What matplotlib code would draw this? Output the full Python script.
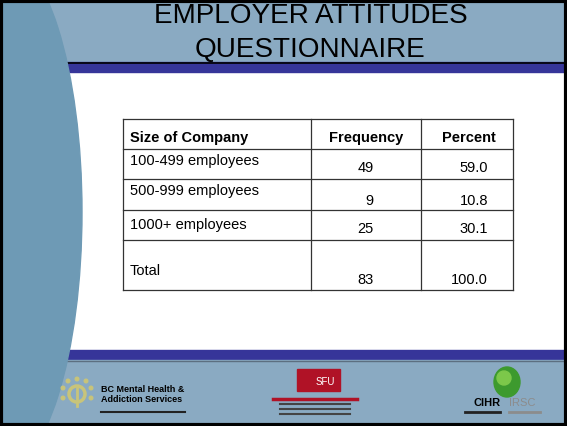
import matplotlib.pyplot as plt
from matplotlib.patches import Rectangle, Ellipse, Circle

plt.rcParams['font.family'] = ['Liberation Sans', 'DejaVu Sans']

title_lines = ['EMPLOYER ATTITUDES', 'QUESTIONNAIRE']
headers = ['Size of Company', 'Frequency', 'Percent']
sizes = ['100-499 employees', '500-999 employees', '1000+ employees', 'Total']
frequency = [49, 9, 25, 83]
percent = [59.0, 10.8, 30.1, 100.0]

band = '#8aaac2'
oval = '#6e9ab5'
navy = '#363599'

fig = plt.figure(figsize=(5.67, 4.26), dpi=100)
ax = fig.add_axes([0, 0, 1, 1])
ax.set_xlim(0, 567)
ax.set_ylim(426, 0)
ax.axis('off')

# slide background
ax.add_patch(Rectangle((0, 0), 567, 426, color='white', zorder=0))
ax.add_patch(Rectangle((0, 0), 567, 62, color=band, zorder=1))
ax.add_patch(Rectangle((0, 62), 567, 10, color=navy, zorder=1))
ax.plot([0, 567], [62.5, 62.5], color='black', lw=1.2, zorder=1.5)
ax.add_patch(Rectangle((0, 350), 567, 10, color=navy, zorder=1))
ax.add_patch(Rectangle((0, 360), 567, 66, color=band, zorder=1))
ax.plot([0, 567], [360.5, 360.5], color='#5c6f80', lw=1, zorder=1.5)
ax.add_patch(Ellipse((0, 212), 164, 520, color=oval, zorder=2))
ax.add_patch(Rectangle((1, 1), 565, 424, fill=False, ec='black', lw=3, zorder=10))

# title
for i, line in enumerate(title_lines):
    ax.text(310.5, 23 + 34 * i, line, fontsize=20.1, ha='center', va='baseline', zorder=3)

# table grid
left, right = 123, 513
col_x = [left, 311, 421, right]
row_y = [119, 149, 179, 210, 240, 290]
for y in row_y:
    ax.plot([left, right], [y, y], color='#333333', lw=0.9, zorder=4)
for x in col_x:
    ax.plot([x, x], [row_y[0], row_y[-1]], color='#333333', lw=0.9, zorder=4)

ax.text(130, 138, headers[0], fontsize=10.5, fontweight='bold', va='center', zorder=5)
ax.text(366, 138, headers[1], fontsize=10.5, fontweight='bold', ha='center', va='center', zorder=5)
ax.text(469, 138, headers[2], fontsize=10.5, fontweight='bold', ha='center', va='center', zorder=5)

label_y = [161, 191, 225, 271]
value_y = [168, 201, 229, 280]
for s, f, p, ly, vy in zip(sizes, frequency, percent, label_y, value_y):
    ax.text(130, ly, s, fontsize=10.5, va='center', zorder=5)
    ax.text(374, vy, str(f), fontsize=10.5, ha='right', va='center', zorder=5)
    ax.text(488, vy, f'{p:.1f}', fontsize=10.5, ha='right', va='center', zorder=5)

# footer logos
ax.add_patch(Circle((77, 394), 8, fill=False, ec='#c8c47a', lw=2.5, zorder=5))
for dx, dy in [(-14, -6), (-9, -13), (0, -15), (9, -13), (14, -6), (-14, 4), (14, 4)]:
    ax.add_patch(Circle((77 + dx, 394 + dy), 1.8, color='#c8c47a', zorder=5))
ax.plot([77, 77], [388, 406], color='#c8c47a', lw=2, zorder=5)
ax.text(101, 389, 'BC Mental Health &', fontsize=6.5, fontweight='bold', va='center', zorder=5)
ax.text(101, 400, 'Addiction Services', fontsize=6.5, fontweight='bold', va='center', zorder=5)
ax.plot([101, 185], [412, 412], color='#222222', lw=1.5, zorder=5)

ax.add_patch(Rectangle((297, 369), 43, 22, color='#b01226', zorder=5))
ax.text(325, 382, 'SFU', fontsize=7, color='white', ha='center', va='center', zorder=6)
ax.plot([273, 357], [399, 399], color='#b01226', lw=2.5, zorder=5)
for y in [404, 409, 414]:
    ax.plot([280, 350], [y, y], color='#444444', lw=1.5, zorder=5)

ax.add_patch(Ellipse((507, 382), 26, 30, color='#3d9a2e', zorder=5))
ax.add_patch(Ellipse((504, 378), 14, 14, color='#7cc84a', zorder=5))
ax.text(487, 403, 'CIHR', fontsize=8, fontweight='bold', ha='center', va='center', zorder=5)
ax.text(522, 403, 'IRSC', fontsize=8, color='#8c8c8c', ha='center', va='center', zorder=5)
ax.plot([465, 500], [412, 412], color='#222222', lw=2, zorder=5)
ax.plot([509, 540], [412, 412], color='#8c8c8c', lw=2, zorder=5)

fig.savefig('out.png', dpi=100)
